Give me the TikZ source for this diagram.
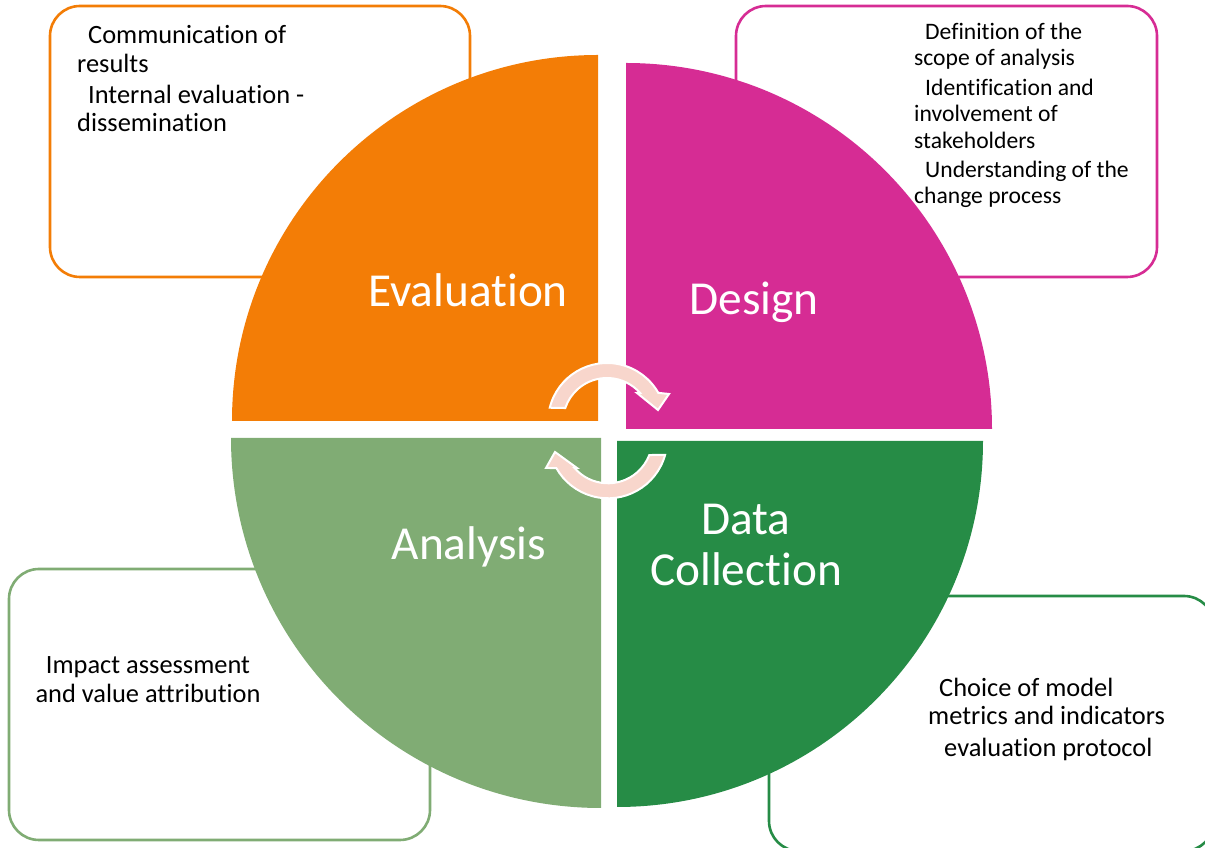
\documentclass[tikz,border=0pt]{standalone}
\usepackage{fontspec}
\setmainfont{Carlito}[Ligatures=NoCommon]
\definecolor{evalorange}{RGB}{243,125,6}
\definecolor{designpink}{RGB}{214,44,148}
\definecolor{datagreen}{RGB}{38,140,70}
\definecolor{analysisgreen}{RGB}{128,172,116}
\definecolor{arrowpink}{RGB}{248,214,204}
\begin{document}
\begin{tikzpicture}[x=1bp,y=1bp,
  note/.style={rounded corners=30bp, line width=2.6bp, fill=white},
  notetext/.style={inner sep=0pt, text=black, anchor=base west, align=left},
  phase/.style={inner sep=0pt, text=white, font=\fontsize{47.5}{52}\selectfont, align=center, anchor=base},
  cyclearrow/.style={fill=arrowpink, draw=white, line width=2bp, line join=miter}
]
\useasboundingbox (0,0) rectangle (1205,848);
\clip (0,0) rectangle (1205,848);

% note boxes behind the pie
\draw[note, draw=evalorange]    (50,571) rectangle (470,842);
\draw[note, draw=designpink]    (736,571) rectangle (1157,842);
\draw[note, draw=analysisgreen] (9,8) rectangle (430,279);
\draw[note, draw=datagreen]     (769,-3) rectangle (1214,252);

% exploded pie, one quarter per phase
\fill[evalorange]    (598,427) -- ++(90:366) arc[start angle=90, end angle=180, radius=366] -- cycle;
\fill[designpink]    (626,419) -- ++(0:366) arc[start angle=0, end angle=90, radius=366] -- cycle;
\fill[datagreen]     (617,407) -- ++(270:366) arc[start angle=270, end angle=360, radius=366] -- cycle;
\fill[analysisgreen] (601,410) -- ++(180:370) arc[start angle=180, end angle=270, radius=370] -- cycle;

% circular arrows in the middle
\coordinate (c1) at (607,426);
\coordinate (c2) at (608,409);
\filldraw[cyclearrow] ([shift={(166:59)}]c1) arc[start angle=166, end angle=29.6, radius=59]
  -- (669,454) -- (658,438) -- (637,455) -- ([shift={(41.3:44)}]c1)
  arc[start angle=41.3, end angle=161.5, radius=44] -- cycle;
\filldraw[cyclearrow] ([shift={(-15.6:59.3)}]c2) arc[start angle=-15.6, end angle=-150.7, radius=59.3]
  -- (546,380) -- (555,396) -- (577,380) -- ([shift={(-139.1:44.3)}]c2)
  arc[start angle=-139.1, end angle=-21.2, radius=44.3] -- cycle;

% phase labels (base anchor sits on the last line)
\node[phase] (evaluation) at (468,541) {Evaluation};
\node[phase] (design) at (754,533) {Design};
\node[phase] (analysis) at (469,288) {Analysis};
\node[phase] (datacoll) at (746,262) {Data\\Collection};

% notes
\node[notetext, font=\fontsize{26.5}{29}\selectfont] (evalnote) at (77,716)
  {\hspace*{11bp}Communication of\\results\\[2bp]\hspace*{11bp}Internal evaluation -\\dissemination};
\node[notetext, font=\fontsize{23.7}{26.5}\selectfont] (designnote) at (914,644)
  {\hspace*{11bp}Definition of the\\scope of analysis\\[3bp]\hspace*{11bp}Identification and\\involvement of\\stakeholders\\[3bp]\hspace*{11bp}Understanding of the\\change process};
\node[notetext, anchor=base, align=center, font=\fontsize{26.5}{30}\selectfont] (analysisnote) at (148,145)
  {Impact assessment\\and value attribution};
\node[notetext, font=\fontsize{26.5}{28}\selectfont] (datanote) at (928,91)
  {\hspace*{11bp}Choice of model\\metrics and indicators\\[5bp]\hspace*{16bp}evaluation protocol};
\end{tikzpicture}
\end{document}
